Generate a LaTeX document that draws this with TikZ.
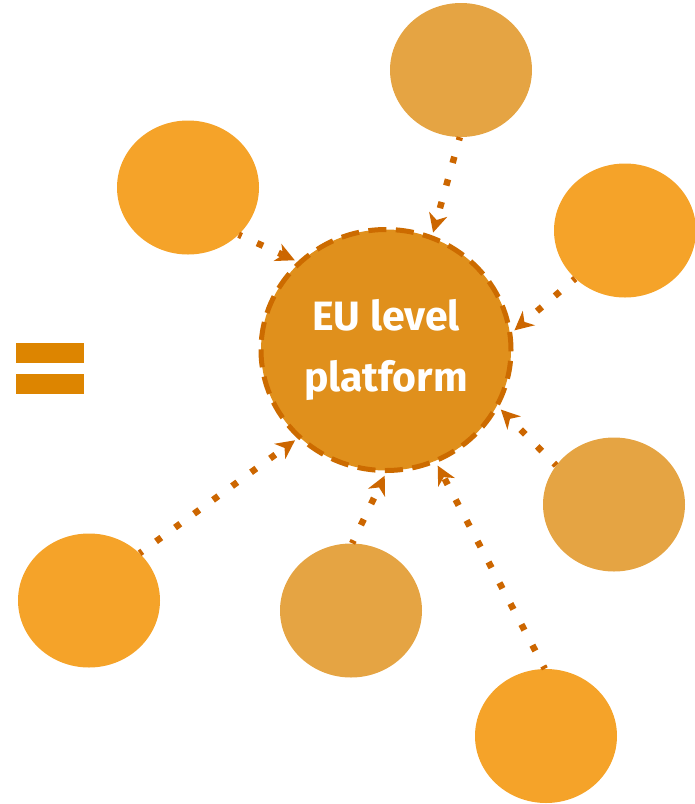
\documentclass[tikz,border=0pt]{standalone}
\usepackage{fontspec}
\setmainfont{Fira Sans}
\usetikzlibrary{shapes.geometric,arrows.meta}
\definecolor{hubfill}{HTML}{E0901C}
\definecolor{hubdash}{HTML}{CC6B00}
\definecolor{brightor}{HTML}{F5A329}
\definecolor{tanor}{HTML}{E5A443}
\definecolor{linkcol}{HTML}{CC6600}
\definecolor{eqcol}{HTML}{DD8500}
\tikzset{
  sat/.style={ellipse,minimum width=142pt,minimum height=134pt,inner sep=0pt,draw=none},
  brightsat/.style={sat,fill=brightor},
  tansat/.style={sat,fill=tanor},
  hub/.style={ellipse,minimum width=250pt,minimum height=241pt,inner sep=0pt,fill=hubfill,
    draw=hubdash,line width=5pt,dash pattern=on 18pt off 9.5pt,
    text=white,font=\bfseries\fontsize{41}{61}\selectfont,align=center},
  link/.style={draw=linkcol,line width=6.5pt,line cap=butt,dash pattern=on 6.5pt off 17pt,dash phase=3.25pt,
    -{Stealth[length=19pt,width=19pt,inset=6pt,line width=0pt,fill=linkcol]},shorten >=3pt},
  eqbar/.style={fill=eqcol,draw=none}
}
\begin{document}
\begin{tikzpicture}[x=1pt,y=-1pt]
\useasboundingbox (0,0) rectangle (695,804);
\node[hub] (c) at (386,350) {EU level\\platform};
\node[tansat] (s1) at (461,70) {};
\node[brightsat] (s2) at (188,187.5) {};
\node[brightsat] (s3) at (625,230.5) {};
\node[tansat] (s4) at (614,504.5) {};
\node[brightsat] (s5) at (89,600.5) {};
\node[tansat] (s6) at (351,610.5) {};
\node[brightsat] (s7) at (546,736) {};
\path[eqbar] (16,343) rectangle (84,363);
\path[eqbar] (16,374) rectangle (84,394);
\draw[link] (s1.-91) -- (c.68.3);
\draw[link] (s2.-43) -- (c.135.7);
\draw[link] (s3.224.4) -- (c.8.4);
\draw[link] (s4.146.7) -- (c.-27.4);
\draw[link] (s5.43.3) -- (c.-135);
\draw[link] (s6.89) -- (c.-90.5);
\draw[link] (s7.91.6) -- (c.-66.8);
\end{tikzpicture}
\end{document}
